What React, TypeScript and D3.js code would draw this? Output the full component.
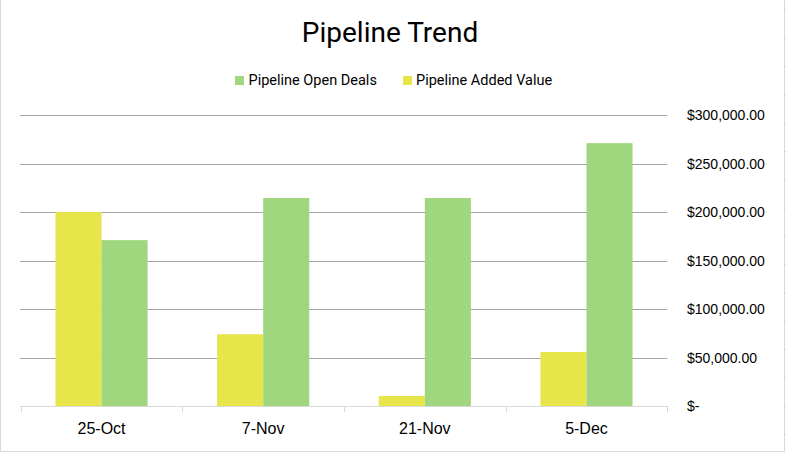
import React from "react";
import * as d3 from "d3";

const categories = ["25-Oct", "7-Nov", "21-Nov", "5-Dec"];
const addedValue = [200000, 74000, 10300, 55700];
const openDeals = [171000, 214400, 214400, 271000];
const yTicks = [0, 50000, 100000, 150000, 200000, 250000, 300000];
const tickLabels = ["$-", "$50,000.00", "$100,000.00", "$150,000.00", "$200,000.00", "$250,000.00", "$300,000.00"];
const seriesNames = ["Pipeline Open Deals", "Pipeline Added Value"];

const W = 786;
const H = 452;
const YELLOW = "#e8e54b";
const GREEN = "#a0d77e";

export default function App() {
  const x = d3.scaleBand<string>().domain(categories).range([20.7, 667.3]).paddingInner(0).paddingOuter(0);
  const y = d3.scaleLinear().domain([0, 300000]).range([406, 115]);
  const bw = x.bandwidth();
  const group = bw * 0.57;
  const sub = d3.scaleBand<string>().domain(["added", "open"]).range([(bw - group) / 2, (bw + group) / 2]);
  const rowMarks = d3.range(10, 452, 28.3);

  return (
    <svg width={W} height={H} style={{ position: "absolute", left: 0, top: 0, background: "#fff" }}
      fontFamily="'Liberation Sans', Arial, sans-serif">
      <rect x={0} y={0} width={W} height={H} fill="#fff" />
      {/* chart frame */}
      <line x1={0.5} y1={0} x2={0.5} y2={451.5} stroke="#d9d9d9" />
      <line x1={0} y1={451.5} x2={784.5} y2={451.5} stroke="#d9d9d9" />
      <line x1={784.5} y1={0} x2={784.5} y2={451.5} stroke="#d9d9d9" />
      {rowMarks.map((r, i) => (
        <line key={i} x1={785} x2={786} y1={r} y2={r} stroke="#d0d0d0" />
      ))}
      {/* title */}
      <text x={390} y={42} textAnchor="middle" fontFamily="Roboto, sans-serif" fontSize={28} fill="#000">
        Pipeline Trend
      </text>
      {/* legend */}
      <rect x={235} y={76} width={9} height={9} fill={GREEN} />
      <text x={248.5} y={85} fontFamily="Roboto, sans-serif" fontSize={14.5} fill="#000">{seriesNames[0]}</text>
      <rect x={403} y={76} width={9} height={9} fill={YELLOW} />
      <text x={416} y={85} fontFamily="Roboto, sans-serif" fontSize={14.5} fill="#000">{seriesNames[1]}</text>
      {/* gridlines */}
      {yTicks.slice(1).map((t) => (
        <line key={t} x1={20} x2={667.3} y1={Math.round(y(t)) + 0.5} y2={Math.round(y(t)) + 0.5} stroke="#a6a6a6" strokeWidth={1} />
      ))}
      {/* bars */}
      {categories.map((c, i) => (
        <g key={c} transform={`translate(${x(c)},0)`}>
          <rect x={sub("added")} y={y(addedValue[i])} width={sub.bandwidth()} height={y(0) - y(addedValue[i])} fill={YELLOW} />
          <rect x={sub("open")} y={y(openDeals[i])} width={sub.bandwidth()} height={y(0) - y(openDeals[i])} fill={GREEN} />
        </g>
      ))}
      {/* x axis */}
      <line x1={20} x2={667.3} y1={406.5} y2={406.5} stroke="#d9d9d9" />
      {[...categories.map((c) => x(c) as number), 667.3].map((p, i) => (
        <line key={i} x1={Math.round(p) + 0.5} x2={Math.round(p) + 0.5} y1={406} y2={412} stroke="#d9d9d9" />
      ))}
      {categories.map((c) => (
        <text key={c} x={(x(c) as number) + bw / 2} y={434} textAnchor="middle" fontSize={16} fill="#000">{c}</text>
      ))}
      {/* y axis labels */}
      {yTicks.map((t, i) => (
        <text key={t} x={687} y={y(t) + 5} fontSize={14} fill="#000">{tickLabels[i]}</text>
      ))}
    </svg>
  );
}
